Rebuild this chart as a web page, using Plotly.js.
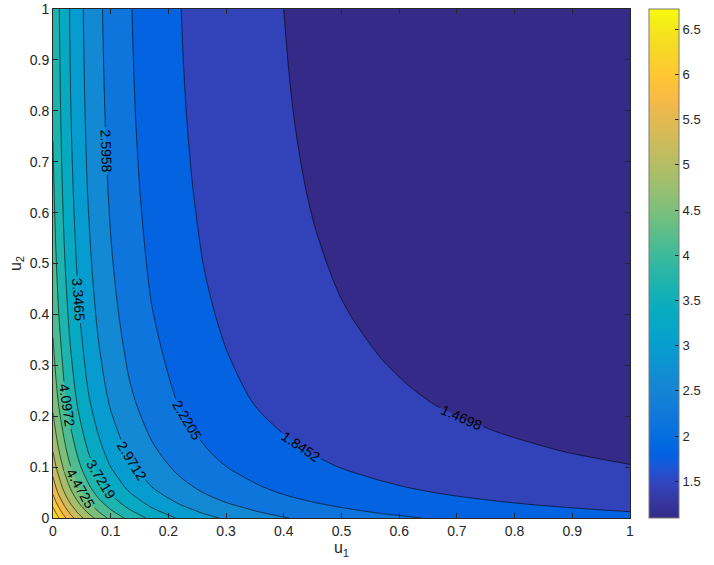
<!DOCTYPE html>
<html>
<head>
<meta charset="utf-8">
<script src="https://cdn.plot.ly/plotly-3.0.1.min.js"></script>
<style>html,body{margin:0;padding:0;background:#fff;}#chart{width:714px;height:565px;}</style>
</head>
<body>
<div id="chart"></div>
<script>
// grid coordinates (u1 across, u2 up)
var u1 = [0,0.005,0.01,0.02,0.03,0.045,0.06,0.08,0.1,0.13,0.17,0.22,0.26,0.3,0.35,0.4,0.45,0.5,0.57,0.65,0.72,0.8,0.9,1.0];
var u2 = [0,0.005,0.01,0.02,0.03,0.045,0.06,0.08,0.1,0.13,0.17,0.22,0.26,0.3,0.35,0.4,0.45,0.5,0.57,0.65,0.72,0.8,0.9,1.0];

// field values, one row per u2 value
var zValues = [
[6.7244,6.5379,6.3624,6.0406,5.7528,5.3745,5.0498,4.6842,4.3800,4.0116,3.6390,3.2953,3.0872,2.9197,2.7515,2.6161,2.5048,2.4119,2.3047,2.2065,2.1360,2.0687,1.9997,1.9429],
[6.6364,6.4453,6.2663,5.9401,5.6504,5.2721,4.9495,4.5881,4.2885,3.9267,3.5613,3.2250,3.0213,2.8574,2.6928,2.5602,2.4513,2.3604,2.2555,2.1594,2.0904,2.0246,1.9570,1.9014],
[6.5430,6.3487,6.1673,5.8383,5.5478,5.1707,4.8509,4.4940,4.1991,3.8438,3.4857,3.1564,2.9572,2.7967,2.6356,2.5058,2.3993,2.3102,2.2076,2.1135,2.0460,1.9815,1.9154,1.8610],
[6.3753,6.1768,5.9924,5.6607,5.3702,4.9962,4.6815,4.3331,4.0466,3.7028,3.3569,3.0398,2.8479,2.6934,2.5382,2.4133,2.3106,2.2249,2.1260,2.0354,1.9704,1.9083,1.8446,1.7922],
[6.2077,6.0078,5.8229,5.4918,5.2035,4.8347,4.5264,4.1864,3.9081,3.5750,3.2404,2.9343,2.7490,2.5999,2.4501,2.3295,2.2304,2.1477,2.0522,1.9648,1.9020,1.8421,1.7806,1.7300],
[5.9873,5.7881,5.6043,5.2768,4.9934,4.6332,4.3337,4.0053,3.7374,3.4177,3.0973,2.8047,2.6276,2.4851,2.3419,2.2266,2.1319,2.0528,1.9616,1.8780,1.8180,1.7607,1.7020,1.6536],
[5.8034,5.6062,5.4248,5.1023,4.8245,4.4722,4.1809,3.8621,3.6029,3.2942,2.9848,2.7029,2.5322,2.3948,2.2569,2.1458,2.0545,1.9783,1.8904,1.8098,1.7520,1.6968,1.6402,1.5935],
[5.6100,5.4164,5.2386,4.9232,4.6521,4.3097,4.0268,3.7184,3.4681,3.1705,2.8724,2.6011,2.4368,2.3046,2.1718,2.0649,1.9771,1.9038,1.8192,1.7416,1.6860,1.6329,1.5784,1.5336],
[5.4276,5.2387,5.0654,4.7583,4.4946,4.1623,3.8882,3.5897,3.3481,3.0602,2.7722,2.5104,2.3519,2.2242,2.0961,1.9929,1.9082,1.8374,1.7557,1.6809,1.6272,1.5760,1.5233,1.4800],
[5.2203,5.0377,4.8699,4.5733,4.3189,3.9984,3.7353,3.4477,3.2148,2.9384,2.6618,2.4104,2.2582,2.1357,2.0126,1.9135,1.8322,1.7642,1.6858,1.6140,1.5624,1.5132,1.4627,1.4211],
[5.0071,4.8315,4.6703,4.3864,4.1418,3.8339,3.5804,3.3047,3.0815,2.8165,2.5514,2.3104,2.1645,2.0471,1.9292,1.8342,1.7562,1.6911,1.6159,1.5470,1.4976,1.4505,1.4021,1.3622],
[4.7923,4.6240,4.4696,4.1965,3.9625,3.6680,3.4255,3.1617,2.9481,2.6947,2.4410,2.2105,2.0709,1.9586,1.8457,1.7548,1.6802,1.6179,1.5460,1.4801,1.4328,1.3876,1.3414,1.3033],
[4.6719,4.5078,4.3573,4.0911,3.8630,3.5758,3.3394,3.0823,2.8740,2.6269,2.3797,2.1549,2.0188,1.9093,1.7993,1.7107,1.6380,1.5772,1.5071,1.4429,1.3968,1.3528,1.3076,1.2705],
[4.5796,4.4188,4.2712,4.0103,3.7866,3.5052,3.2734,3.0214,2.8172,2.5750,2.3327,2.1123,1.9790,1.8716,1.7638,1.6769,1.6056,1.5461,1.4774,1.4144,1.3692,1.3261,1.2818,1.2454],
[4.4793,4.3219,4.1776,3.9224,3.7037,3.4284,3.2017,2.9552,2.7555,2.5186,2.2816,2.0661,1.9356,1.8306,1.7251,1.6402,1.5704,1.5122,1.4450,1.3834,1.3392,1.2970,1.2537,1.2181],
[4.3950,4.2406,4.0990,3.8486,3.6340,3.3638,3.1414,2.8996,2.7037,2.4712,2.2386,2.0272,1.8992,1.7961,1.6927,1.6093,1.5409,1.4837,1.4178,1.3574,1.3140,1.2726,1.2301,1.1952],
[4.3268,4.1748,4.0354,3.7888,3.5776,3.3116,3.0927,2.8545,2.6617,2.4328,2.2039,1.9957,1.8697,1.7682,1.6664,1.5843,1.5170,1.4607,1.3958,1.3363,1.2936,1.2529,1.2110,1.1766],
[4.2706,4.1206,3.9830,3.7396,3.5311,3.2686,3.0525,2.8175,2.6271,2.4012,2.1752,1.9698,1.8454,1.7453,1.6447,1.5638,1.4973,1.4417,1.3777,1.3189,1.2768,1.2366,1.1953,1.1614],
[4.2064,4.0586,3.9231,3.6834,3.4780,3.2195,3.0066,2.7751,2.5876,2.3651,2.1425,1.9402,1.8177,1.7190,1.6200,1.5402,1.4747,1.4200,1.3570,1.2991,1.2576,1.2180,1.1773,1.1439],
[4.1462,4.0005,3.8669,3.6307,3.4282,3.1734,2.9636,2.7354,2.5506,2.3313,2.1119,1.9124,1.7916,1.6944,1.5968,1.5182,1.4536,1.3997,1.3375,1.2805,1.2396,1.2006,1.1605,1.1275],
[4.1060,3.9618,3.8295,3.5955,3.3950,3.1427,2.9349,2.7089,2.5259,2.3087,2.0914,1.8939,1.7743,1.6780,1.5814,1.5035,1.4396,1.3862,1.3246,1.2681,1.2276,1.1889,1.1492,1.1166],
[4.0699,3.9269,3.7958,3.5639,3.3652,3.1150,2.9091,2.6851,2.5037,2.2884,2.0730,1.8772,1.7587,1.6633,1.5674,1.4903,1.4269,1.3740,1.3129,1.2570,1.2168,1.1785,1.1391,1.1068],
[4.0378,3.8959,3.7659,3.5358,3.3386,3.0904,2.8861,2.6639,2.4839,2.2703,2.0567,1.8624,1.7448,1.6501,1.5551,1.4785,1.4156,1.3631,1.3026,1.2470,1.2072,1.1692,1.1301,1.0980],
[4.0137,3.8727,3.7434,3.5147,3.3187,3.0720,2.8689,2.6480,2.4691,2.2568,2.0444,1.8513,1.7344,1.6403,1.5458,1.4697,1.4072,1.3550,1.2948,1.2396,1.2000,1.1622,1.1234,1.0945]
];

// contour levels (first labelled level, step, last level) and colour limits
var levelStart = 1.46982;
var levelStep = 0.37534;
var levelEnd = 6.34924;
var zMin = 1.09448;
var zMax = 6.72458;

// colorbar ticks
var cbTickVals = [1.5, 2, 2.5, 3, 3.5, 4, 4.5, 5, 5.5, 6, 6.5];
var cbTickText = ['1.5', '2', '2.5', '3', '3.5', '4', '4.5', '5', '5.5', '6', '6.5'];

// parula colormap
var parula = [
[0.2081,0.1663,0.5292],[0.2116,0.1898,0.5777],[0.2123,0.2138,0.6270],[0.2081,0.2386,0.6771],
[0.1959,0.2645,0.7279],[0.1707,0.2919,0.7792],[0.1253,0.3242,0.8303],[0.0591,0.3598,0.8683],
[0.0117,0.3875,0.8820],[0.0060,0.4086,0.8828],[0.0165,0.4266,0.8786],[0.0329,0.4430,0.8720],
[0.0498,0.4586,0.8641],[0.0629,0.4737,0.8554],[0.0723,0.4887,0.8467],[0.0779,0.5040,0.8384],
[0.0793,0.5200,0.8312],[0.0749,0.5375,0.8263],[0.0641,0.5570,0.8240],[0.0488,0.5772,0.8228],
[0.0343,0.5966,0.8199],[0.0265,0.6137,0.8135],[0.0239,0.6287,0.8038],[0.0231,0.6418,0.7913],
[0.0228,0.6535,0.7768],[0.0267,0.6642,0.7607],[0.0384,0.6743,0.7436],[0.0590,0.6838,0.7254],
[0.0843,0.6928,0.7062],[0.1133,0.7015,0.6859],[0.1453,0.7098,0.6646],[0.1801,0.7177,0.6424],
[0.2178,0.7250,0.6193],[0.2586,0.7317,0.5954],[0.3022,0.7376,0.5712],[0.3482,0.7424,0.5473],
[0.3953,0.7459,0.5244],[0.4420,0.7481,0.5033],[0.4871,0.7491,0.4840],[0.5300,0.7491,0.4661],
[0.5709,0.7485,0.4494],[0.6099,0.7473,0.4337],[0.6473,0.7456,0.4188],[0.6834,0.7435,0.4044],
[0.7184,0.7411,0.3905],[0.7525,0.7384,0.3768],[0.7858,0.7356,0.3633],[0.8185,0.7327,0.3498],
[0.8507,0.7299,0.3360],[0.8824,0.7274,0.3217],[0.9139,0.7258,0.3063],[0.9450,0.7261,0.2886],
[0.9739,0.7314,0.2666],[0.9938,0.7455,0.2403],[0.9990,0.7653,0.2164],[0.9955,0.7861,0.1967],
[0.9880,0.8066,0.1794],[0.9789,0.8271,0.1633],[0.9697,0.8481,0.1475],[0.9626,0.8705,0.1309],
[0.9589,0.8949,0.1132],[0.9598,0.9218,0.0948],[0.9661,0.9514,0.0755],[0.9763,0.9831,0.0538]
];
function rgb(c){return 'rgb('+Math.round(c[0]*255)+','+Math.round(c[1]*255)+','+Math.round(c[2]*255)+')';}

// continuous scale for the colorbar
var cbScale = parula.map(function(c,i){return [i/(parula.length-1), rgb(c)];});

// band colours: each filled band takes the map colour at its lower level
var nBands = Math.round((levelEnd - levelStart)/levelStep) + 2;
var bandScale = [];
for (var b = 0; b < nBands; b++) {
  var lower = zMin + b*levelStep;
  var idx = Math.min(parula.length-1, Math.floor((lower - zMin)/(zMax - zMin)*parula.length));
  bandScale.push([b/(nBands-1), rgb(parula[idx])]);
}

var font = 'Liberation Sans, Arial, Helvetica, sans-serif';
var axisCol = '#262626';

var contour = {
  type: 'contour',
  x: u1, y: u2, z: zValues,
  autocontour: false,
  contours: {
    start: levelStart, end: levelEnd, size: levelStep,
    coloring: 'fill', showlabels: true, labelformat: '.4f',
    labelfont: {family: font, size: 14, color: '#000'}
  },
  colorscale: bandScale,
  showscale: false,
  line: {color: '#000', width: 0.6, smoothing: 1.1},
  hoverinfo: 'skip'
};

var cbar = {
  type: 'scatter', mode: 'markers',
  x: [-5, -5], y: [-5, -5],
  hoverinfo: 'skip', showlegend: false,
  marker: {
    color: [zMin, zMax], cmin: zMin, cmax: zMax, colorscale: cbScale, size: 1,
    showscale: true,
    colorbar: {
      x: 1.0325, xanchor: 'left', xpad: 0,
      y: 0.5, yanchor: 'middle', ypad: 0,
      len: 1, lenmode: 'fraction',
      thickness: 30, thicknessmode: 'pixels',
      outlinewidth: 1, outlinecolor: '#7a7a7a',
      ticks: 'inside', ticklen: 4, tickcolor: axisCol,
      tickvals: cbTickVals, ticktext: cbTickText,
      tickfont: {family: font, size: 13, color: axisCol}
    }
  }
};

var layout = {
  width: 714, height: 565,
  margin: {l: 53, r: 76, t: 9, b: 47},
  paper_bgcolor: '#fff', plot_bgcolor: '#fff',
  showlegend: false,
  font: {family: font, size: 14, color: axisCol},
  xaxis: {
    range: [0, 1], dtick: 0.1, tick0: 0, ticks: 'inside', ticklen: 5,
    tickcolor: axisCol, showline: true, linecolor: axisCol, linewidth: 1, mirror: 'ticks',
    showgrid: false, zeroline: false, fixedrange: true,
    tickfont: {family: font, size: 14, color: axisCol},
    title: {text: 'u<sub>1</sub>', font: {family: font, size: 16, color: axisCol}, standoff: 4}
  },
  yaxis: {
    range: [0, 1], dtick: 0.1, tick0: 0, ticks: 'inside', ticklen: 5,
    tickcolor: axisCol, showline: true, linecolor: axisCol, linewidth: 1, mirror: 'ticks',
    showgrid: false, zeroline: false, fixedrange: true,
    tickfont: {family: font, size: 14, color: axisCol},
    title: {text: 'u<sub>2</sub>', font: {family: font, size: 16, color: axisCol}, standoff: 4}
  }
};

Plotly.newPlot('chart', [contour, cbar], layout, {staticPlot: true, displayModeBar: false});
</script>
</body>
</html>
